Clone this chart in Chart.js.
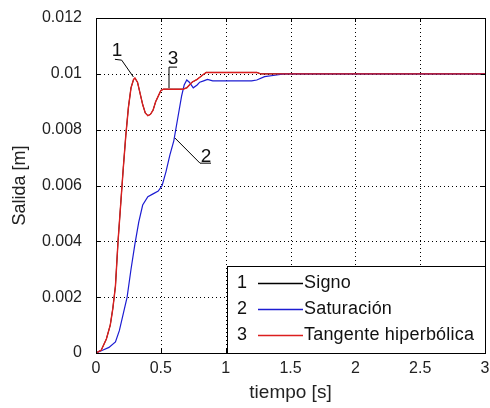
<!DOCTYPE html>
<html>
<head>
<meta charset="utf-8">
<script src="https://cdn.jsdelivr.net/npm/chart.js@4/dist/chart.umd.min.js"></script>
<style>
html, body { margin: 0; padding: 0; background: #fff; }
#wrap { width: 490px; height: 408px; }
</style>
</head>
<body>
<div id="wrap"><canvas id="c" width="490" height="408"></canvas></div>
<script>
// tiempo [s] / salida [m]
const tSigno = [0, 0.04, 0.08, 0.11, 0.13, 0.15, 0.17, 0.19, 0.21, 0.23, 0.25, 0.27, 0.29, 0.30, 0.32, 0.34, 0.36, 0.38, 0.40, 0.42, 0.44, 0.46, 0.48, 0.50, 0.52, 0.60, 0.67, 0.70, 0.74, 0.78, 0.82, 0.85, 1.0, 1.24, 1.27, 1.5, 2, 2.5, 3]
const ySigno = [0, 0.0001, 0.0005, 0.001, 0.0016, 0.0024, 0.004, 0.0053, 0.0066, 0.0078, 0.0088, 0.0095, 0.0098, 0.00985, 0.0097, 0.0093, 0.0089, 0.0086, 0.0085, 0.00855, 0.0087, 0.009, 0.0092, 0.0094, 0.00945, 0.00945, 0.00945, 0.0095, 0.0097, 0.0098, 0.00995, 0.01005, 0.01005, 0.01005, 0.01, 0.01, 0.01, 0.01, 0.01]
const tTanh = [0, 0.04, 0.08, 0.11, 0.13, 0.15, 0.17, 0.19, 0.21, 0.23, 0.25, 0.27, 0.29, 0.30, 0.32, 0.34, 0.36, 0.38, 0.40, 0.42, 0.44, 0.46, 0.48, 0.50, 0.52, 0.60, 0.67, 0.70, 0.74, 0.78, 0.82, 0.85, 1.0, 1.24, 1.27, 1.5, 2, 2.5, 3]
const yTanh = [0, 0.0001, 0.0005, 0.001, 0.0016, 0.0024, 0.004, 0.0053, 0.0066, 0.0078, 0.0088, 0.0095, 0.0098, 0.00985, 0.0097, 0.0093, 0.0089, 0.0086, 0.0085, 0.00855, 0.0087, 0.009, 0.0092, 0.0094, 0.00945, 0.00945, 0.00945, 0.0095, 0.0097, 0.0098, 0.00995, 0.01005, 0.01005, 0.01005, 0.01, 0.01, 0.01, 0.01, 0.01]
const tSat = [0, 0.05, 0.10, 0.15, 0.18, 0.21, 0.24, 0.27, 0.30, 0.33, 0.36, 0.40, 0.44, 0.48, 0.51, 0.54, 0.57, 0.60, 0.63, 0.66, 0.68, 0.70, 0.72, 0.75, 0.78, 0.80, 0.83, 0.86, 0.9, 1.0, 1.2, 1.24, 1.3, 1.38, 1.45, 1.5, 2, 2.5, 3]
const ySat = [0, 0.0001, 0.0002, 0.0004, 0.0008, 0.0014, 0.002, 0.003, 0.0039, 0.0047, 0.0053, 0.0056, 0.0057, 0.0058, 0.006, 0.0065, 0.0071, 0.0076, 0.0084, 0.0092, 0.0096, 0.00978, 0.0097, 0.0095, 0.0096, 0.0097, 0.00975, 0.0098, 0.00975, 0.00975, 0.00975, 0.00978, 0.0099, 0.00995, 0.01, 0.01, 0.01, 0.01, 0.01]

const seriesNames = ['Signo', 'Saturación', 'Tangente hiperbólica']
const seriesColors = ['#000000', '#1c1cd2', '#dc1e1e']
const xTicks = [0, 0.5, 1, 1.5, 2, 2.5, 3]
const yTicks = [0, 0.002, 0.004, 0.006, 0.008, 0.01, 0.012]

// curve labels (gtext style) in data units
const tags = [
  { text: '1', at: [0.162, 0.01082], path: [[0.146, 0.01052], [0.198, 0.01049], [0.288, 0.00989]] },
  { text: '3', at: [0.594, 0.01053], path: [[0.625, 0.01024], [0.563, 0.01024], [0.563, 0.00949]] },
  { text: '2', at: [0.848, 0.00702], path: [[0.609, 0.0077], [0.802, 0.0068], [0.887, 0.0068]] }
]

const FONT = '"Liberation Sans", Arial, sans-serif'

function pts(t, y) { return t.map((v, i) => ({ x: v, y: y[i] })) }

const frame = {
  id: 'frame',
  beforeDatasetsDraw(chart) {
    const ctx = chart.ctx, a = chart.chartArea
    const xs = chart.scales.x, ys = chart.scales.y
    ctx.save()
    ctx.strokeStyle = '#000'
    ctx.lineWidth = 1
    ctx.setLineDash([1, 3])
    ctx.beginPath()
    xTicks.slice(1, -1).forEach(v => {
      const px = Math.round(xs.getPixelForValue(v)) + 0.5
      ctx.moveTo(px, a.bottom); ctx.lineTo(px, a.top)
    })
    yTicks.slice(1, -1).forEach(v => {
      const py = Math.round(ys.getPixelForValue(v)) + 0.5
      ctx.moveTo(a.left, py); ctx.lineTo(a.right, py)
    })
    ctx.stroke()
    ctx.restore()
  },
  afterDatasetsDraw(chart) {
    const ctx = chart.ctx, a = chart.chartArea
    const xs = chart.scales.x, ys = chart.scales.y
    ctx.save()
    ctx.strokeStyle = '#000'
    ctx.lineWidth = 1
    // inward ticks
    ctx.beginPath()
    xTicks.forEach(v => {
      const px = Math.round(xs.getPixelForValue(v)) + 0.5
      ctx.moveTo(px, a.bottom); ctx.lineTo(px, a.bottom - 4)
      ctx.moveTo(px, a.top); ctx.lineTo(px, a.top + 4)
    })
    yTicks.forEach(v => {
      const py = Math.round(ys.getPixelForValue(v)) + 0.5
      ctx.moveTo(a.left, py); ctx.lineTo(a.left + 4, py)
      ctx.moveTo(a.right, py); ctx.lineTo(a.right - 4, py)
    })
    ctx.stroke()
    ctx.strokeRect(Math.round(a.left) + 0.5, Math.round(a.top) + 0.5, Math.round(a.right - a.left), Math.round(a.bottom - a.top))

    // tags
    ctx.font = '19px ' + FONT
    ctx.fillStyle = '#111'
    ctx.textAlign = 'center'
    ctx.textBaseline = 'middle'
    tags.forEach(tg => {
      ctx.beginPath()
      tg.path.forEach((p, i) => {
        const px = xs.getPixelForValue(p[0]), py = ys.getPixelForValue(p[1])
        if (i == 0) ctx.moveTo(px, py); else ctx.lineTo(px, py)
      })
      ctx.stroke()
      ctx.fillText(tg.text, xs.getPixelForValue(tg.at[0]), ys.getPixelForValue(tg.at[1]))
    })

    // legend box
    const bx = Math.round(a.right) - 258, by = Math.round(a.bottom) - 87, bw = 258, bh = 87
    ctx.fillStyle = '#fff'
    ctx.fillRect(bx, by, bw, bh)
    ctx.strokeStyle = '#000'
    ctx.strokeRect(bx + 0.5, by + 0.5, bw, bh)
    ctx.font = '18px ' + FONT
    ctx.letterSpacing = '0.2px'
    ctx.textAlign = 'left'
    seriesNames.forEach((n, i) => {
      const y = by + 17 + i * 26
      ctx.fillStyle = '#111'
      ctx.fillText(String(i + 1), bx + 10, y)
      ctx.strokeStyle = seriesColors[i]
      ctx.lineWidth = 1.3
      ctx.beginPath()
      ctx.moveTo(bx + 31, y + 0.5); ctx.lineTo(bx + 76, y + 0.5)
      ctx.stroke()
      ctx.fillText(n, bx + 77, y)
    })
    ctx.restore()
  }
}

new Chart(document.getElementById('c'), {
  type: 'scatter',
  data: {
    datasets: [
      { label: seriesNames[0], data: pts(tSigno, ySigno), borderColor: seriesColors[0], borderWidth: 1, order: 3 },
      { label: seriesNames[1], data: pts(tSat, ySat), borderColor: seriesColors[1], borderWidth: 1.2, order: 2 },
      { label: seriesNames[2], data: pts(tTanh, yTanh), borderColor: seriesColors[2], borderWidth: 1.4, order: 1 }
    ].map(d => Object.assign(d, { showLine: true, pointRadius: 0, tension: 0, fill: false }))
  },
  options: {
    responsive: false,
    animation: false,
    layout: { padding: { top: 18, right: 5, left: 0, bottom: 0 } },
    plugins: { legend: { display: false }, tooltip: { enabled: false } },
    scales: {
      x: {
        type: 'linear', min: 0, max: 3,
        afterFit: s => { s.height = 55; s.paddingLeft = 0; s.paddingRight = 0 },
        afterBuildTicks: s => { s.ticks = xTicks.map(v => ({ value: v })) },
        grid: { display: false, drawTicks: false },
        border: { display: false },
        ticks: { color: '#222', font: { family: FONT, size: 16 }, padding: 6, maxRotation: 0, callback: v => String(v) },
        title: { display: true, text: 'tiempo [s]', color: '#222', font: { family: FONT, size: 19 }, padding: { top: 0, bottom: 4 } }
      },
      y: {
        type: 'linear', min: 0, max: 0.012,
        afterFit: s => { s.width = 96; s.paddingTop = 0; s.paddingBottom = 0 },
        afterBuildTicks: s => { s.ticks = yTicks.map(v => ({ value: v })) },
        grid: { display: false, drawTicks: false },
        border: { display: false },
        ticks: { color: '#222', font: { family: FONT, size: 16 }, padding: 14, callback: v => String(+v.toFixed(3)) },
        title: { display: true, text: 'Salida [m]', color: '#222', font: { family: FONT, size: 18 }, padding: { top: 9, bottom: 0 } }
      }
    }
  },
  plugins: [frame]
})
</script>
</body>
</html>
